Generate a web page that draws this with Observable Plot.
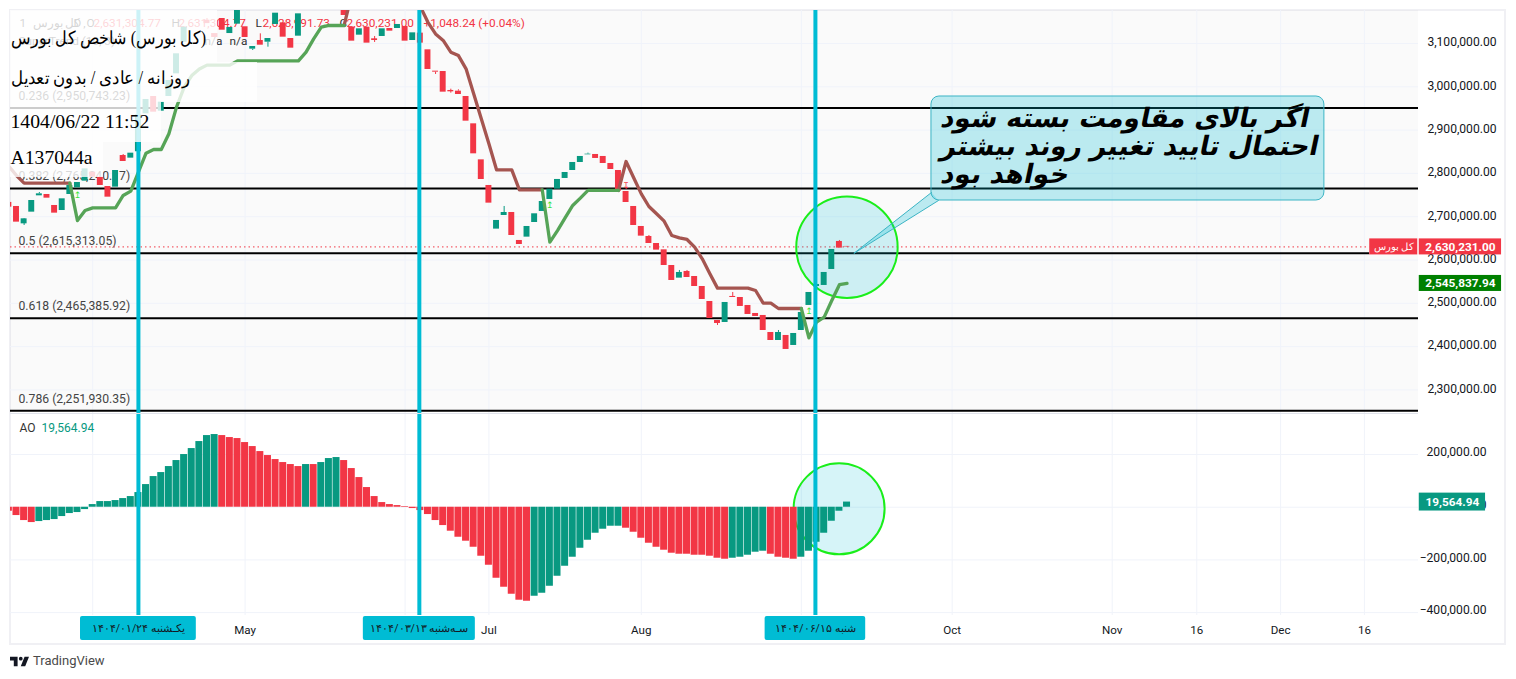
<!DOCTYPE html>
<html><head><meta charset="utf-8">
<script src="https://cdn.jsdelivr.net/npm/d3@7"></script>
<script src="https://cdn.jsdelivr.net/npm/@observablehq/plot@0.6"></script>
<style>
html,body{margin:0;padding:0;background:#fff;width:1516px;height:679px;overflow:hidden}
#stage{position:relative;width:1516px;height:679px}
#frame{position:absolute;left:9px;top:9px;width:1493px;height:632px;border:2px solid #f0f0f4}
.plot{position:absolute;left:0}
.plot svg{display:block}
.veil{position:absolute;left:10px;background:rgba(255,255,255,.8)}
.wm{position:absolute;left:10.5px;color:#000;font:19.7px "Liberation Serif",serif;white-space:nowrap}
.fa{direction:rtl;left:auto;font-size:18px;transform-origin:right center}
#tv{position:absolute;left:33px;top:653px;font:13px Roboto,sans-serif;color:#4a4a4a}
#logo{position:absolute;left:10px;top:655px}
</style></head><body>
<div id="stage">
<div id="frame"></div>
<div id="price" class="plot" style="top:0"></div>
<div id="ao" class="plot" style="top:413px"></div>
<div class="veil" style="top:10px;width:207px;height:52px"></div>
<div class="veil" style="top:62px;width:247px;height:40px"></div>
<div class="veil" style="top:102px;width:151px;height:40px"></div>
<div class="veil" style="top:142px;width:93px;height:35px"></div>
<div class="wm fa" style="top:27px;right:1310px;transform:scaleX(.89)">(کل بورس) شاخص کل بورس</div>
<div class="wm fa" style="top:67px;right:1325px;transform:scaleX(.92)">روزانه / عادی / بدون تعدیل</div>
<div class="wm" style="top:110px">1404/06/22 11:52</div>
<div class="wm" style="top:146px">A137044a</div>
<svg id="logo" width="19" height="13" viewBox="2 6 30 15"><path fill="#131722" d="M14 6H2v6h6v9h6V6Zm12 15h-7l6-15h7l-6 15Zm-7-9a3 3 0 1 0 0-6 3 3 0 0 0 0 6Z"/></svg>
<div id="tv">TradingView</div>
</div>
<script>
// --- data (prices and AO in thousands) ---
const firstIndex = -1;
const candleOpen = [2733,2723.6,2683.5,2710.5,2748.2,2751.3,2725.9,2714.3,2751.3,2766.7,2782.1,2802.8,2791.3,2769.7,2768.2,2841.3,2835.2,2850,2937.6,2977.6,2943.7,2977.6,3029.9,3103,3178,3195,3153.8,3123,3157.7,3123,3144.6,3138.6,3086.9,3106.9,3103,3143.9,3147.7,3111.5,3116.9,3185,3210,3195,3205,3190,3180,3137.7,3119.2,3137.7,3110.8,3116.2,3134.6,3134.6,3139.3,3106.9,3123.9,3085.4,3036.1,3035.3,2991.5,2989.9,2977.6,2914.5,2831.3,2772.1,2671.3,2702.8,2709.7,2645.1,2652.8,2686.6,2712.1,2739.8,2763.6,2788.3,2806.7,2825.2,2842.9,2843.7,2839.1,2822.9,2806.7,2758.2,2723.6,2677.4,2654.3,2638.1,2623.5,2587.3,2558.1,2573.5,2561.9,2538.8,2504.2,2460.3,2455.7,2515.8,2513.4,2495,2476.5,2471.9,2432.6,2414.1,2425.7,2402.6,2437.2,2495,2538.8,2541.2,2578.1,2642.8,2631.3];
const candleClose = [2722,2687.4,2695.1,2737.4,2752.8,2742.8,2708.2,2741.3,2772.1,2779,2810.5,2791.3,2772.1,2745.1,2806.7,2827.5,2846.7,2935,2970.7,2941.4,2964.5,3014.5,3076.2,3137.7,3200,3180,3146,3113.9,3130.7,3137,3185,3113.9,3093,3096.1,3111.5,3170,3114.6,3089.2,3168.5,3200,3190,3215,3185,3200,3164.7,3105.4,3133.9,3100.8,3106.9,3133.9,3128.5,3143.9,3105.4,3124.6,3100.8,3040,3033.8,2987.6,2988.4,2982.2,2920.6,2845.2,2785.9,2731.3,2691.3,2709.7,2656.6,2635.8,2677.4,2706.7,2735.1,2763.6,2786,2802.1,2825.2,2839.1,2844.4,2834.5,2822.9,2809,2759,2732.8,2679.7,2655.1,2638.1,2622.8,2587.3,2552.7,2571.2,2559.6,2538.8,2508.8,2464.9,2453.4,2501.9,2513.4,2492.7,2474.2,2469.6,2437.2,2414.1,2432.6,2393.4,2430.3,2478.8,2525,2543.5,2571.2,2624.3,2627.4,2630.2];
const wickIndex = [1,3,14,25,31,32,33,47,55,57,58,64,75,83,87,88,92,94,100,108,109];
const wickTop = [2695.1,2755.9,2843.6,3157.7,3086.9,3122.3,3103,3116.2,3033.8,2994.5,2993,2723.6,2846.8,2656.6,2575.8,2575.8,2460.3,2525,2437.2,2645.1,2631.3];
const wickBottom = [2679.7,2752.8,2841.3,3146,3083.8,3106.9,3091.5,3102.3,3028.4,2985.3,2989.9,2709.7,2844.4,2654.3,2571.2,2573.5,2448.8,2515.8,2432.6,2642.8,2630.2];

const stDown1 = [2816.7,2795,2777.4,2777.4,2777.4,2777.4,2777.4,2777.4,2777.4];            // from -1
const stUp1 = [2777.4,2691,2714.3,2720.5,2720.5,2720.5,2720.5,2749,2759,2803,2846.7,2855.2,2855.2,2891.4,2953,2999,3026,3041,3050,3050,3050,3050,3060,3060,3060,3060,3060,3060,3060,3060,3060,3080,3110.8,3137.7,3141.6,3141.6,3141.6]; // from 7
const stDown2 = [3141.6,3215,3215,3215,3215,3215,3215,3215,3215,3215,3185,3149,3122,3107,3080,3072,3041.5,2983.7,2926,2868.3,2808.3,2808.3,2808.3,2762,2762,2762,2762]; // from 43
const stUp2 = [2762,2641.2,2668,2697.4,2725.9,2742.8,2760.6,2760.6,2760.6,2760.6,2760.6]; // from 69
const stDown3 = [2760.6,2827.5,2789.8,2752.8,2723.6,2706.7,2689.7,2656.6,2651.2,2647.4,2629.7,2602.7,2568,2535,2535,2535,2535,2535,2529.6,2500.4,2500.4,2488,2488,2488,2488]; // from 79
const stUp3 = [2488,2420.3,2456.5,2468,2506.5,2543,2545.84]; // from 103

const signalIndex = [8,70,104,80];
const signalValue = [2750.5,2726.7,2481.9,2771.3];
const signalText = ["↥","↥","↥","↧"];

const aoValues = [-15.2,-31.6,-50.6,-58.2,-54.4,-50.6,-46.8,-35.4,-24,-20.2,-8.9,10.1,21.5,21.5,25.3,32.9,40.5,55.7,86,116.4,131.6,154.4,177.2,200,222.7,249.3,272,275.9,272,264.5,260.7,245.5,230.3,211.3,196.2,181,169.6,162,154.4,162,162,169.6,184.8,188.6,177.2,146.8,112.6,74.7,40.5,17.7,10.1,6.3,2.5,-5,-12.7,-27.8,-50.6,-69.6,-91,-113.9,-129,-151.9,-186,-220.2,-269.6,-303.7,-330.3,-353,-356.9,-337.9,-326.5,-300,-262,-224,-189.8,-155.7,-125.3,-98.7,-83.5,-72.1,-72.1,-79.7,-94.9,-117.7,-136.7,-151.9,-163.2,-174.6,-178.4,-178.4,-182.2,-182.2,-186,-193.6,-197.4,-193.6,-189.8,-182.2,-170.8,-167,-178.4,-189.8,-193.6,-197.4,-189.8,-167,-132.9,-98.7,-53.2,-15.2,19.56494];
const aoKind = "rrrr gggggggggggggggggggggggg rrrrrrrrrrr g r ggg rrrrrrrrrrrrrrrrrrrrrrrrr gggggggggggg rrrrrrrrrrrrrr ggggg rrrr ggggggg".replace(/ /g,"");

const fibRatio = ["0.236","0.382","0.5","0.618","0.786"];
const fibValue = [2950.74323,2765.24017,2615.31305,2465.38592,2251.93035];
const fibLabel = ["0.236 (2,950,743.23)","0.382 (2,765,240.17)","0.5 (2,615,313.05)","0.618 (2,465,385.92)","0.786 (2,251,930.35)"];

const priceTicks = [3100,3000,2900,2800,2700,2600,2500,2400,2300];
const aoTicks = [200,0,-200,-400];
const timeGridIndex = [10,30,51,62,82,103,122.8,143.8,154.9,165.9,176.9];
const timeTickIndex = [30,62,82,122.8,143.8,154.9,165.9,176.9];
const timeTickLabel = ["May","Jul","Aug","Oct","Nov","16","Dec","16"];

const markerIndex = [16,52.87,104.85];
const markerLabel = ["یکـشنبه ۱۴۰۴/۰۱/۲۴","سـه‌شنبه ۱۴۰۴/۰۳/۱۳","شنبه ۱۴۰۴/۰۶/۱۵"];
const markerHalfWidth = [7.6,7.35,6.6];

const lastPrice = 2630.231, lastTrend = 2545.83794, lastAO = 19.56494;
const calloutLines = ["اگر بالای مقاومت بسته شود","احتمال تایید تغییر روند بیشتر","خواهد بود"];
const calloutLevels = [2926.8,2862.1,2797.5];
const legendText = ["1","کل بورس ,","D","O","2,631,304.77","H","2,631,304.77","L","2,628,991.73","C","2,630,231.00","+1,048.24 (+0.04%)"];
const legendOffset = [9,22,63,76,83,161,168,245,252,329,336,413];
const legendRed = [false,false,false,false,true,false,true,false,true,false,true,true];

// --- derived ---
const GREEN="#089981", RED="#F23645", CYAN="#00BCD4", GRID="#f0f3fa", FONT="Roboto, sans-serif";
const candles = candleOpen.map((o,k)=>({i:k+firstIndex,o,c:candleClose[k],fill:candleClose[k]>=o?GREEN:RED}));
const wicks = wickIndex.map((i,k)=>({i,t:wickTop[k],b:wickBottom[k],stroke:candles[i-firstIndex].fill}));
const ao = aoValues.map((v,k)=>({i:k+firstIndex,v,fill:aoKind[k]==="g"?GREEN:RED}));
const series = (vals,start)=>vals.map((v,k)=>({i:start+k,v}));
const num = d3.format(",.2f");
const fmt = v => num(v*1000).replace("-","−");
const fibs = fibValue.map((v,k)=>({v,label:fibLabel[k],ratio:fibRatio[k]}));

const xDomain=[-0.7874,184], rightLabel=194.9;
const base = {width:1516,marginLeft:10,marginRight:98,style:{fontFamily:FONT,fontSize:"12px",background:"transparent",overflow:"visible"}};
const xScale = {domain:xDomain,axis:null};

// --- price pane ---
const lineSt=(vals,start,stroke)=>Plot.line(series(vals,start),{x:"i",y:"v",stroke,strokeWidth:3.3,clip:true});
const priceTop=3176.2;
const tail=[{x:120.08,y:2755.9},{x:109.9,y:2615.3},{x:121,y:2737.4}];
const price = Plot.plot({...base,height:413,marginTop:10,marginBottom:0,
  x:xScale,y:{domain:[2245.5,priceTop],axis:null},
  marks:[
    Plot.rect([{}],{x1:xDomain[0],x2:xDomain[1],y1:fibValue[4],y2:priceTop,fill:"#787b86",fillOpacity:.04}),
    Plot.gridX(timeGridIndex,{stroke:GRID,strokeOpacity:1}),
    Plot.gridY(priceTicks,{stroke:GRID,strokeOpacity:1}),
    Plot.axisY(priceTicks,{anchor:"right",tickSize:0,textAnchor:"end",dx:69,dy:-1,tickFormat:fmt,label:null,fill:"#131722",fontSize:12.1}),
    Plot.text(fibs,{y:"v",text:"label",frameAnchor:"left",dx:8,dy:-12,fill:"#444",fontSize:12.2}),
    Plot.ruleY(fibs.slice(0,2).concat(fibs.slice(3)),{y:"v",stroke:"#000",strokeWidth:2}),
    Plot.ruleY(fibs.slice(2,3),{y:"v",x1:xDomain[0],x2:177.6,stroke:"#000",strokeWidth:2}),
    Plot.ruleY([lastPrice],{x1:xDomain[0],x2:177.6,stroke:RED,strokeDasharray:"1.5 3"}),
    Plot.dot([{}],{x:108.99,y:2629.6,r:50.7,fill:CYAN,fillOpacity:.18,stroke:"#1aee1a",strokeWidth:2}),
    ...legendText.map((t,k)=>Plot.text([t],{frameAnchor:"top-left",dx:legendOffset[k],dy:8,fill:legendRed[k]?"#F23645":"#333",fontSize:11.8})),
    Plot.text(["SuperTrend (10, 3)"],{frameAnchor:"top-left",dx:8,dy:26,fill:"#333",fontSize:11.8}),
    Plot.text(["n/a"],{frameAnchor:"top-left",dx:194,dy:26,fill:"#333",fontSize:11.8}),
    Plot.text(["n/a"],{frameAnchor:"top-left",dx:219,dy:26,fill:"#333",fontSize:11.8}),
    Plot.ruleX(wicks,{x:"i",y1:"t",y2:"b",stroke:"stroke",strokeWidth:1,clip:true}),
    Plot.rect(candles,{x1:d=>d.i-.39,x2:d=>d.i+.39,y1:d=>Math.max(d.o,d.c),y2:d=>Math.min(d.o,d.c),fill:"fill",clip:true}),
    lineSt(stDown1,-1,"#a55550"),lineSt(stDown2,43,"#a55550"),lineSt(stDown3,79,"#a55550"),
    lineSt(stUp1,7,"#56a457"),lineSt(stUp2,69,"#56a457"),lineSt(stUp3,103,"#56a457"),
    Plot.text(signalIndex.map((i,k)=>({i,v:signalValue[k],t:signalText[k]})),{x:"i",y:"v",text:"t",fill:d=>d.t==="↥"?"#39e639":RED,fontSize:9,fontFamily:"DejaVu Sans"}),
    Plot.ruleX(markerIndex,{y1:2245.5,y2:priceTop,stroke:CYAN,strokeWidth:4}),
    Plot.line(tail,{x:"x",y:"y",fill:CYAN,fillOpacity:.25,stroke:"#3bb4c4",strokeWidth:1}),
    Plot.rect([{}],{x1:120.08,x2:171.65,y1:2737.4,y2:2977.6,fill:CYAN,fillOpacity:.25,stroke:"#3bb4c4",strokeWidth:1,rx:8}),
    Plot.text(calloutLines.map((t,k)=>({t,y:calloutLevels[k]})),{x:121.4,y:"y",text:"t",textAnchor:"start",fontFamily:"DejaVu Sans",fontWeight:"bold",fontSize:26.5,fill:"#000"}),
    // right-hand value tags
    Plot.rect([{}],{x1:177.6,x2:183.9,y1:lastPrice-18.5,y2:lastPrice+18.5,fill:RED}),
    Plot.text(["کل بورس"],{x:180.75,y:lastPrice,fill:"#fff",fontSize:9.5}),
    Plot.rect([{}],{x1:184.1,x2:rightLabel,y1:lastPrice-18.5,y2:lastPrice+18.5,fill:RED}),
    Plot.text([fmt(lastPrice)],{x:(184.1+rightLabel)/2,y:lastPrice,fill:"#fff",fontSize:11.8,fontWeight:"bold"}),
    Plot.rect([{}],{x1:184.1,x2:rightLabel,y1:lastTrend-18.5,y2:lastTrend+18.5,fill:"#008000"}),
    Plot.text([fmt(lastTrend)],{x:(184.1+rightLabel)/2,y:lastTrend,fill:"#fff",fontSize:11.8,fontWeight:"bold"}),
    Plot.ruleY([2245.5],{stroke:"#e0e3eb",strokeWidth:1})
  ]});
document.getElementById("price").append(price);
// slant the callout's Arabic: the bold face has no oblique Arabic glyphs of its own
d3.select(price).selectAll("text").filter(function(){return calloutLines.includes(this.textContent)})
  .each(function(){this.setAttribute("transform",(this.getAttribute("transform")||"")+" skewX(-12)")});

// --- AO pane ---
const aoPlot = Plot.plot({...base,height:266,marginTop:1,marginBottom:64,
  x:xScale,y:{domain:[-411,352],axis:null},
  marks:[
    Plot.gridX(timeGridIndex,{stroke:GRID,strokeOpacity:1}),
    Plot.gridY(aoTicks,{stroke:GRID,strokeOpacity:1}),
    Plot.axisY(aoTicks,{anchor:"right",tickSize:0,textAnchor:"end",dx:59,dy:-2,tickFormat:fmt,label:null,fill:"#131722",fontSize:12.1}),
    Plot.axisX(timeTickIndex,{anchor:"bottom",tickSize:0,tickPadding:10,tickFormat:d=>timeTickLabel[timeTickIndex.indexOf(d)],label:null,fill:"#131722",fontSize:11.6}),
    Plot.dot([{}],{x:107.96,y:-6,r:45.5,fill:CYAN,fillOpacity:.16,stroke:"#1aee1a",strokeWidth:2}),
    Plot.rect(ao,{x1:d=>d.i-.46,x2:d=>d.i+.46,y1:0,y2:"v",fill:"fill",clip:true}),
    Plot.text(["AO"],{frameAnchor:"top-left",dx:9,dy:9,fill:"#333",fontSize:12}),
    Plot.text([fmt(lastAO)],{frameAnchor:"top-left",dx:31,dy:9,fill:GREEN,fontSize:12}),
    Plot.ruleX(markerIndex,{y1:-411,y2:352,stroke:CYAN,strokeWidth:4}),
    Plot.rect(markerIndex.map((i,k)=>({i,w:markerHalfWidth[k]})),{x1:d=>d.i-d.w,x2:d=>d.i+d.w,y1:-506,y2:-415,fill:CYAN,rx:2}),
    Plot.text(markerIndex.map((i,k)=>({i,t:markerLabel[k]})),{x:"i",y:-460,text:"t",fill:"#131722",fontSize:10.5}),
    Plot.rect([{}],{x1:184.1,x2:192.8,y1:lastAO-34,y2:lastAO+34,fill:GREEN}),
    Plot.text([fmt(lastAO)],{x:188.45,y:lastAO,fill:"#fff",fontSize:11.8,fontWeight:"bold"})
  ]});
document.getElementById("ao").append(aoPlot);
</script>
</body></html>
